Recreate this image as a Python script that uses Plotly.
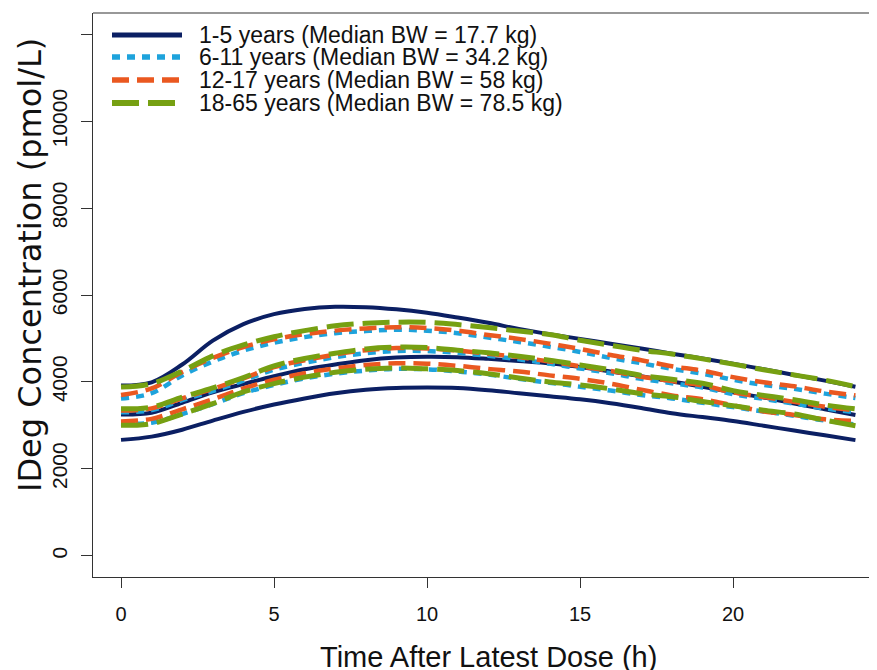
import plotly.graph_objects as go

# ---------------- data ----------------
hours = list(range(25))

# 1-5 years (Median BW = 17.7 kg): upper / median / lower
age1_upper = [3917, 3990, 4400, 4950, 5330, 5560, 5680, 5730, 5720, 5670, 5590, 5480, 5360,
              5220, 5100, 4990, 4880, 4770, 4650, 4540, 4420, 4290, 4160, 4030, 3890]
age1_mid = [3250, 3290, 3520, 3760, 3950, 4130, 4290, 4400, 4500, 4560, 4580, 4570, 4530,
            4480, 4430, 4340, 4240, 4130, 4010, 3890, 3760, 3640, 3500, 3370, 3240]
age1_lower = [2666, 2740, 2900, 3110, 3310, 3480, 3620, 3740, 3820, 3860, 3870, 3860, 3810,
              3740, 3670, 3600, 3510, 3400, 3280, 3190, 3100, 2990, 2880, 2770, 2660]

# 6-11 years (Median BW = 34.2 kg)
age2_upper = [3620, 3740, 4150, 4470, 4720, 4900, 5030, 5120, 5170, 5200, 5180, 5120, 5020,
              4920, 4810, 4690, 4550, 4430, 4300, 4190, 4050, 3930, 3840, 3730, 3630]
age2_mid = [3300, 3350, 3580, 3790, 4030, 4280, 4440, 4570, 4660, 4710, 4710, 4670, 4600,
            4520, 4420, 4310, 4200, 4070, 3970, 3870, 3720, 3610, 3500, 3390, 3300]
age2_lower = [3040, 3060, 3260, 3490, 3740, 3930, 4080, 4190, 4260, 4300, 4290, 4240, 4170,
              4070, 3980, 3890, 3800, 3700, 3620, 3520, 3420, 3320, 3220, 3110, 3020]

# 12-17 years (Median BW = 58 kg)
age3_upper = [3700, 3850, 4230, 4550, 4800, 4980, 5100, 5180, 5230, 5260, 5240, 5180, 5080,
              4990, 4880, 4760, 4620, 4500, 4360, 4260, 4110, 3990, 3900, 3780, 3690]
age3_mid = [3340, 3390, 3620, 3840, 4080, 4340, 4500, 4630, 4730, 4780, 4770, 4720, 4650,
            4570, 4470, 4360, 4250, 4120, 4020, 3920, 3760, 3650, 3540, 3430, 3340]
age3_lower = [3090, 3150, 3370, 3600, 3850, 4050, 4200, 4310, 4390, 4430, 4420, 4370, 4300,
              4240, 4150, 4070, 3960, 3820, 3690, 3600, 3460, 3320, 3240, 3140, 3100]

# 18-65 years (Median BW = 78.5 kg)
age4_upper = [3880, 3960, 4250, 4600, 4850, 5040, 5180, 5290, 5350, 5375, 5370, 5320, 5250,
              5170, 5090, 4960, 4840, 4730, 4640, 4530, 4410, 4280, 4160, 4040, 3890]
age4_mid = [3380, 3420, 3650, 3860, 4100, 4370, 4540, 4660, 4760, 4800, 4790, 4730, 4670,
            4590, 4500, 4390, 4280, 4150, 4060, 3970, 3800, 3690, 3590, 3470, 3380]
age4_lower = [3000, 3040, 3260, 3500, 3770, 3960, 4110, 4220, 4290, 4320, 4300, 4260, 4190,
              4090, 4000, 3930, 3840, 3730, 3660, 3550, 3450, 3350, 3260, 3120, 2990]

group_labels = ["1-5 years (Median BW = 17.7 kg)",
                "6-11 years (Median BW = 34.2 kg)",
                "12-17 years (Median BW = 58 kg)",
                "18-65 years (Median BW = 78.5 kg)"]

x_ticks = [0, 5, 10, 15, 20]
y_ticks = [0, 2000, 4000, 6000, 8000, 10000, 12000]
y_tick_text = ["0", "2000", "4000", "6000", "8000", "10000", ""]

# ---------------- styles ----------------
colors = ["#0b1f63", "#1ea3dc", "#ea5820", "#76a012"]
dashes = ["solid", "8px,7px", "17px,8px", "27px,9px"]
widths = [4, 4.5, 4.5, 5]

groups = [
    (age1_upper, age1_mid, age1_lower),
    (age2_upper, age2_mid, age2_lower),
    (age3_upper, age3_mid, age3_lower),
    (age4_upper, age4_mid, age4_lower),
]

# page has an 8px body margin: the figure is sized so it ends at the window edge
OFF = 8
W, H = 877 - OFF, 670 - OFF
# plot box in page pixels: left 93, top 13, right 877, bottom 577
L = 93 - OFF
T = 13 - OFF
R = 0
B = H - (577 - OFF)
pw, ph = W - L - R, H - T - B


def px_x(p):
    """page pixel x -> paper x"""
    return (p - OFF - L) / pw


def px_y(p):
    """page pixel y -> paper y"""
    return (H - B - (p - OFF)) / ph


fig = go.Figure()
for gi, series in enumerate(groups):
    for s in series:
        fig.add_trace(go.Scatter(
            x=hours, y=s, mode="lines",
            line=dict(color=colors[gi], width=widths[gi], dash=dashes[gi], shape="spline"),
            showlegend=False, hoverinfo="skip"))

# manual legend (R-style, no box)
leg_y = [35, 57, 80, 103]
shapes = []
annotations = []
for gi in range(4):
    shapes.append(dict(type="line", xref="paper", yref="paper",
                       x0=px_x(112), x1=px_x(182), y0=px_y(leg_y[gi]), y1=px_y(leg_y[gi]),
                       line=dict(color=colors[gi], width=widths[gi] + 1, dash=dashes[gi])))
    annotations.append(dict(xref="paper", yref="paper", x=px_x(197), y=px_y(leg_y[gi]),
                            text=group_labels[gi], showarrow=False, xanchor="left",
                            yanchor="middle",
                            font=dict(family="Liberation Sans, Arial, sans-serif",
                                      size=23, color="#111")))

# top border of the box
shapes.append(dict(type="line", xref="paper", yref="paper", x0=0, x1=1, y0=1, y1=1,
                   line=dict(color="#333", width=1.2)))

# axis titles
annotations.append(dict(xref="paper", yref="paper", x=px_x(488), y=px_y(657),
                        text="Time After Latest Dose (h)", showarrow=False,
                        xanchor="center", yanchor="middle",
                        font=dict(family="Liberation Sans, Arial, sans-serif",
                                  size=29, color="#111")))
annotations.append(dict(xref="paper", yref="paper", x=px_x(30), y=px_y(265),
                        text="IDeg Concentration (pmol/L)", showarrow=False, textangle=-90,
                        xanchor="center", yanchor="middle",
                        font=dict(family="DejaVu Sans, sans-serif", size=32, color="#111")))

fig.update_layout(
    width=W, height=H,
    margin=dict(l=L, r=R, t=T, b=B, autoexpand=False),
    paper_bgcolor="white", plot_bgcolor="white",
    shapes=shapes, annotations=annotations,
    showlegend=False,
)
fig.update_xaxes(
    range=[-0.915, 24.705], tickvals=x_ticks, ticktext=[str(v) for v in x_ticks],
    showgrid=False, zeroline=False, showline=True, linecolor="#333", linewidth=1.2,
    ticks="outside", ticklen=10, tickwidth=1.2, tickcolor="#333",
    ticklabelstandoff=9, automargin=False,
    tickfont=dict(family="Liberation Sans, Arial, sans-serif", size=20, color="#111"),
)
fig.update_yaxes(
    range=[-490, 12490], tickvals=y_ticks, ticktext=y_tick_text, tickangle=-90,
    showgrid=False, zeroline=False, showline=True, linecolor="#333", linewidth=1.2,
    ticks="outside", ticklen=11, tickwidth=1.2, tickcolor="#333",
    ticklabelstandoff=6, automargin=False,
    tickfont=dict(family="Liberation Sans, Arial, sans-serif", size=21, color="#111"),
)

fig.write_html("out.html")
